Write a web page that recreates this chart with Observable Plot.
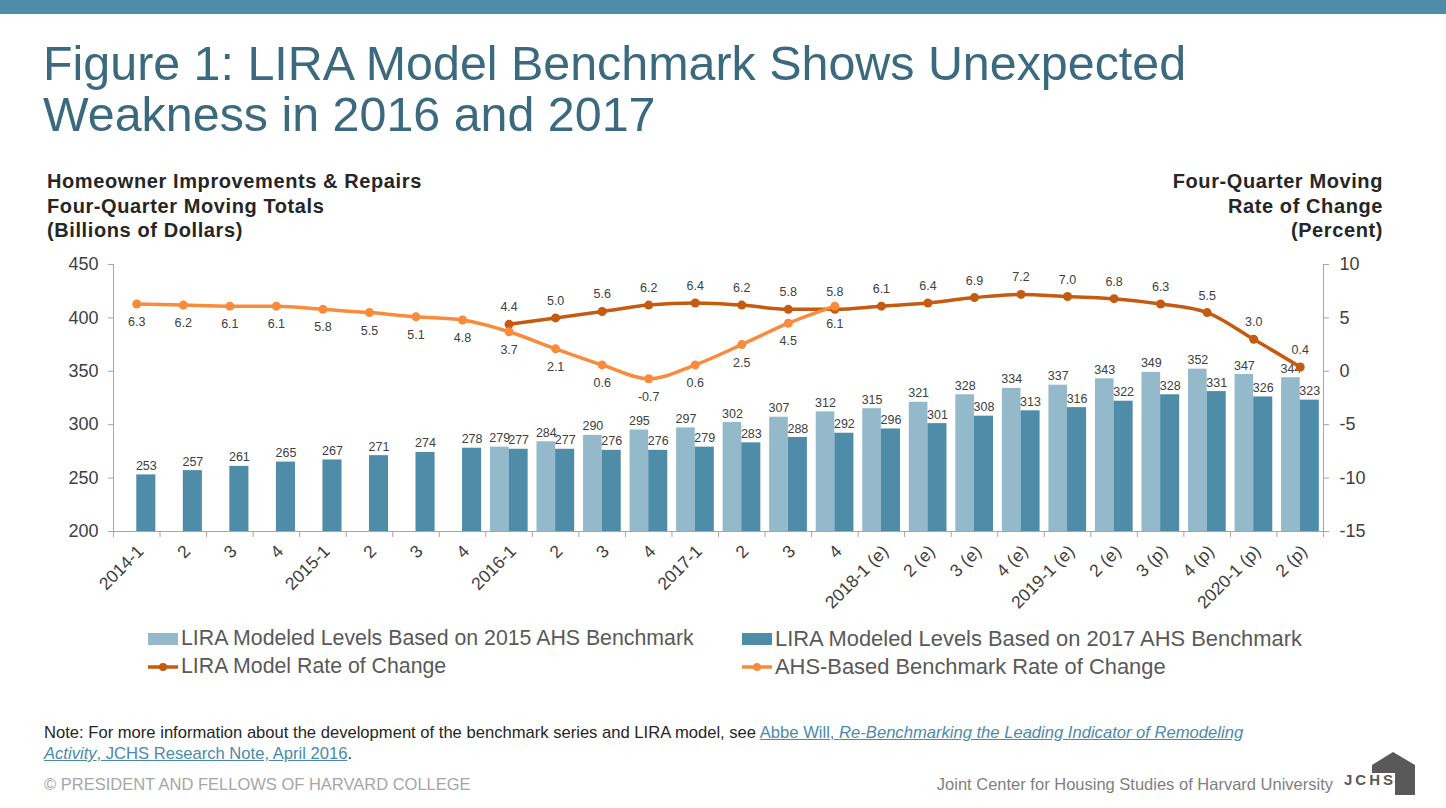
<!DOCTYPE html>
<html>
<head>
<meta charset="utf-8">
<script src="https://cdn.jsdelivr.net/npm/d3@7"></script>
<script src="https://cdn.jsdelivr.net/npm/@observablehq/plot@0.6"></script>
<style>
  html, body { margin: 0; padding: 0; background: #fff; }
  body { width: 1446px; height: 808px; position: relative; overflow: hidden; font-family: "Liberation Sans", Arial, sans-serif; }
  .topbar { position: absolute; left: 0; top: 0; width: 1446px; height: 14px; background: #4f8ca8; }
  .title { position: absolute; left: 43px; top: 38px; font-size: 48.4px; line-height: 51px; color: #3b6a7e; margin: 0; font-weight: normal; }
  .ytitle { position: absolute; top: 169px; font-size: 20px; line-height: 24.5px; font-weight: bold; color: #262626; letter-spacing: 0.6px; }
  .ytitle.left { left: 47px; }
  .ytitle.right { right: 63px; text-align: right; }
  #chart { position: absolute; left: 0; top: 250px; }
  .legend { position: absolute; font-size: 21.3px; color: #595959; display: flex; align-items: center; white-space: nowrap; }
  .legend svg { margin-right: 3px; }
  .note { position: absolute; left: 44px; top: 722px; font-size: 16.6px; line-height: 21px; color: #262626; }
  .note a { color: #4a8aaa; text-decoration: underline; }
  .footer { position: absolute; top: 775px; font-size: 16.5px; color: #a6a6a6; }
  .footer.right { color: #7f7f7f; }
</style>
</head>
<body>
<div class="topbar"></div>
<h1 class="title">Figure 1: LIRA Model Benchmark Shows Unexpected<br>Weakness in 2016 and 2017</h1>
<div class="ytitle left">Homeowner Improvements &amp; Repairs<br>Four-Quarter Moving Totals<br>(Billions of Dollars)</div>
<div class="ytitle right">Four-Quarter Moving<br>Rate of Change<br>(Percent)</div>
<div id="chart"></div>

<div class="legend" style="left:148px; top:626px;"><svg width="30" height="14"><rect x="0" y="1" width="30" height="12" fill="#93b9cb"></rect></svg>LIRA Modeled Levels Based on 2015 AHS Benchmark</div>
<div class="legend" style="left:742px; top:626px; font-size:21.9px;"><svg width="30" height="14"><rect x="0" y="1" width="30" height="12" fill="#4f8ca8"></rect></svg>LIRA Modeled Levels Based on 2017 AHS Benchmark</div>
<div class="legend" style="left:148px; top:654px;"><svg width="30" height="14"><line x1="0" x2="30" y1="7" y2="7" stroke="#c55a11" stroke-width="3.5"></line><circle cx="15" cy="7" r="4" fill="#c55a11"></circle></svg>LIRA Model Rate of Change</div>
<div class="legend" style="left:742px; top:654px; font-size:21.9px;"><svg width="30" height="14"><line x1="0" x2="30" y1="7" y2="7" stroke="#f98b3c" stroke-width="3.5"></line><circle cx="15" cy="7" r="4" fill="#f98b3c"></circle></svg>AHS-Based Benchmark Rate of Change</div>

<div class="note">Note: For more information about the development of the benchmark series and LIRA model, see <a href="#">Abbe Will, <i>Re-Benchmarking the Leading Indicator of Remodeling<br>Activity</i>, JCHS Research Note, April 2016</a>.</div>
<div class="footer" style="left:44px;">© PRESIDENT AND FELLOWS OF HARVARD COLLEGE</div>
<div class="footer right" style="right:113px;">Joint Center for Housing Studies of Harvard University</div>
<svg style="position:absolute; left:1343px; top:748px;" width="80" height="50">
  <path d="M29 17 L50 4 L72 17 L72 47 L52 47 L52 25 L29 25 Z" fill="#595959"></path>
  <text x="1" y="37" font-family="Liberation Sans, Arial, sans-serif" font-weight="bold" font-size="15" letter-spacing="3" fill="#595959">JCHS</text>
</svg>

<script>
// ---- Data ----
const categories = ["2014-1","2","3","4","2015-1","2","3","4","2016-1","2","3","4","2017-1","2","3","4",
  "2018-1 (e)","2 (e)","3 (e)","4 (e)","2019-1 (e)","2 (e)","3 (p)","4 (p)","2020-1 (p)","2 (p)"];
const levels2015 = [null,null,null,null,null,null,null,null,
  279,284,290,295,297,302,307,312,315,321,328,334,337,343,349,352,347,344];
const levels2017 = [253,257,261,265,267,271,274,278,277,277,276,276,279,283,288,292,
  296,301,308,313,316,322,328,331,326,323];
const liraRate = [null,null,null,null,null,null,null,null,
  4.4,5.0,5.6,6.2,6.4,6.2,5.8,5.8,6.1,6.4,6.9,7.2,7.0,6.8,6.3,5.5,3.0,0.4];
const ahsRate = [6.3,6.2,6.1,6.1,5.8,5.5,5.1,4.8,3.7,2.1,0.6,-0.7,0.6,2.5,4.5,6.1,
  null,null,null,null,null,null,null,null,null,null];
const leftTicks = [200,250,300,350,400,450];
const rightTicks = [-15,-10,-5,0,5,10];

// ---- Build table ----
const rows = categories.map((c, i) => ({i, c, l15: levels2015[i], l17: levels2017[i], lira: liraRate[i], ahs: ahsRate[i]}));
const yMin = leftTicks[0], yMax = leftTicks[leftTicks.length - 1];
const rMin = rightTicks[0], rMax = rightTicks[rightTicks.length - 1];
// map right-axis (percent) values onto the left scale
const toLeft = r => yMin + (r - rMin) * (yMax - yMin) / (rMax - rMin);
const toRight = v => rMin + (v - yMin) * (rMax - rMin) / (yMax - yMin);
const n = categories.length;
const xDom = [-0.5, n - 0.5];

const light = "#93b9cb", dark = "#4f8ca8", liraC = "#c55a11", ahsC = "#f98b3c", txt = "#404040", axisC = "#a6a6a6";

const r15 = rows.filter(d => d.l15 != null);
const rLira = rows.filter(d => d.lira != null);
const rAhs = rows.filter(d => d.ahs != null);

const chart = Plot.plot({
  width: 1446,
  height: 361,
  marginLeft: 113,
  marginRight: 123,
  marginTop: 14,
  marginBottom: 80,
  style: {fontFamily: "Liberation Sans, Arial, sans-serif", background: "transparent", overflow: "visible"},
  x: {type: "linear", domain: xDom},
  y: {domain: [yMin, yMax]},
  marks: [
    // bars
    Plot.rectY(r15, {x1: d => d.i - 0.4, x2: d => d.i, y1: yMin, y2: "l15", fill: light}),
    Plot.rectY(rows, {x1: d => d.i, x2: d => d.i + 0.41, y1: yMin, y2: "l17", fill: dark}),
    // axes frame
    Plot.ruleY([yMin], {stroke: axisC}),
    Plot.ruleX(xDom, {stroke: axisC}),
    Plot.axisY({anchor: "left", ticks: leftTicks, tickSize: 5, tickPadding: 10, fontSize: 18, stroke: axisC, fill: txt, label: null}),
    Plot.axisY({anchor: "right", ticks: leftTicks, tickFormat: d => String(toRight(d)), tickSize: 5, tickPadding: 11, fontSize: 18, stroke: axisC, fill: txt, label: null}),
    Plot.axisX({ticks: d3.range(-0.5, n, 1), tickSize: 6, tickFormat: () => "", stroke: axisC, label: null}),
    Plot.axisX({ticks: d3.range(0, n), tickSize: 0, tickPadding: 17, tickRotate: -45, tickFormat: i => categories[i], fontSize: 17.5, fill: txt, label: null, dx: 4}),
    // bar labels
    Plot.text(r15, {x: d => d.i - 0.2, y: "l15", text: d => String(d.l15), dy: -9, fontSize: 12.5, fill: txt}),
    Plot.text(rows, {x: d => d.i + 0.205, y: "l17", text: d => String(d.l17), dy: -9, fontSize: 12.5, fill: txt}),
    // lines
    Plot.line(rLira, {x: "i", y: d => toLeft(d.lira), stroke: liraC, strokeWidth: 3.5, curve: "monotone-x"}),
    Plot.dot(rLira, {x: "i", y: d => toLeft(d.lira), r: 4.5, fill: liraC}),
    Plot.line(rAhs, {x: "i", y: d => toLeft(d.ahs), stroke: ahsC, strokeWidth: 3.5, curve: "monotone-x"}),
    Plot.dot(rAhs, {x: "i", y: d => toLeft(d.ahs), r: 4.5, fill: ahsC}),
    // line labels
    Plot.text(rLira, {x: "i", y: d => toLeft(d.lira), text: d => d.lira.toFixed(1), dy: -17, fontSize: 12.5, fill: txt}),
    Plot.text(rAhs, {x: "i", y: d => toLeft(d.ahs), text: d => d.ahs.toFixed(1), dy: 18, fontSize: 12.5, fill: txt})
  ]
});
document.getElementById("chart").appendChild(chart);
</script>
</body>
</html>
